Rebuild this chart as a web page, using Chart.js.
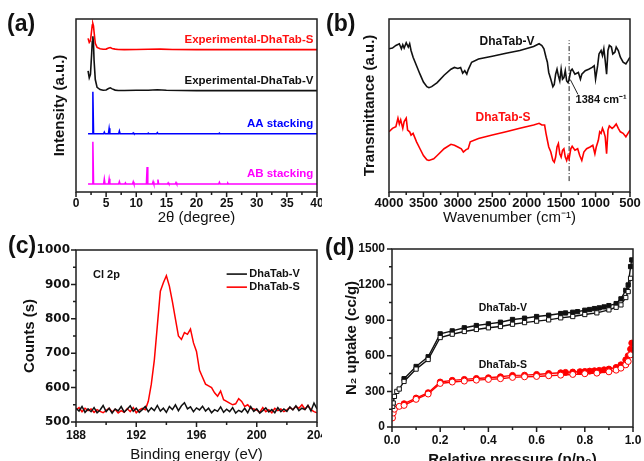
<!DOCTYPE html>
<html>
<head>
<meta charset="utf-8">
<script src="https://cdn.jsdelivr.net/npm/chart.js@4.4.0/dist/chart.umd.min.js"></script>
<style>
  body { margin: 0; width: 644px; height: 461px; overflow: hidden; background: #fff; position: relative; font-family: 'Liberation Sans', Arial, sans-serif; }
  canvas { position: absolute; }
  .tag { position: absolute; font-weight: bold; font-size: 23px; line-height: 23px; color: #111; }
</style>
</head>
<body>
<canvas id="cA" width="322" height="230" style="left:0;top:0"></canvas>
<canvas id="cB" width="322" height="230" style="left:322px;top:0"></canvas>
<canvas id="cC" width="322" height="240" style="left:0;top:230px"></canvas>
<canvas id="cD" width="322" height="240" style="left:322px;top:230px"></canvas>
<div class="tag" style="left:7px;top:12px">(a)</div>
<div class="tag" style="left:326px;top:12px">(b)</div>
<div class="tag" style="left:8px;top:234px">(c)</div>
<div class="tag" style="left:325px;top:236px">(d)</div>
<script>
// ---- (a) XRD ----
const xrdTicks = [0, 5, 10, 15, 20, 25, 30, 35, 40];
const xrdMinor = [2.5, 7.5, 12.5, 17.5, 22.5, 27.5, 32.5, 37.5];
const xrdSx = [2.0, 2.2, 2.4, 2.6, 2.7, 2.8, 2.9, 3.0, 3.2, 3.5, 4.0, 4.5, 5.0, 5.4, 5.7, 6.0, 6.5, 7.0, 8, 10, 12, 14, 16, 20, 25, 30, 35, 40];
const xrdS  = [88.8, 86.5, 87.5, 93.5, 96.5, 97.3, 96.0, 92.5, 86.0, 83.6, 82.8, 82.5, 82.6, 83.2, 83.5, 83.0, 82.6, 82.4, 82.3, 82.4, 82.5, 82.6, 82.4, 82.3, 82.3, 82.3, 82.3, 82.3];
const xrdVx = [2.0, 2.2, 2.4, 2.6, 2.7, 2.8, 2.9, 3.0, 3.2, 3.5, 4.0, 4.5, 5.0, 5.4, 5.7, 6.0, 6.5, 7.0, 8, 10, 12, 13.5, 15, 20, 25, 30, 35, 40];
const xrdV  = [70, 66, 68, 80, 87, 90, 86, 76, 65, 60.5, 59.2, 58.8, 59.0, 59.8, 60.2, 59.6, 58.9, 58.7, 58.7, 58.8, 58.8, 59.1, 58.8, 58.6, 58.6, 58.6, 58.6, 58.6];
const aaX = [2.0, 2.68, 2.8, 2.92, 4.58, 4.7, 4.82, 5.38, 5.5, 5.62, 7.08, 7.2, 7.32, 9.38, 9.5, 9.62, 11.88, 12.0, 12.12, 13.38, 13.5, 13.62, 23.68, 23.8, 23.92, 40];
const aaY = [33.7, 33.7, 58, 33.7, 33.7, 34.6, 33.7, 33.7, 36.8, 33.7, 33.7, 35.3, 33.7, 33.7, 34.2, 33.7, 33.7, 34.1, 33.7, 33.7, 34.3, 33.7, 33.7, 34.1, 33.7, 33.7];
const abX = [2.0, 2.68, 2.8, 2.92, 4.58, 4.7, 4.82, 5.38, 5.5, 5.62, 7.08, 7.2, 7.32, 8.08, 8.2, 8.32, 9.38, 9.5, 9.62, 11.68, 11.8, 11.92, 12.68, 12.8, 12.92, 13.48, 13.6, 13.72, 15.18, 15.3, 15.42, 16.48, 16.6, 16.72, 23.68, 23.8, 23.92, 25.08, 25.2, 25.32, 40];
const abY = [4.6, 4.6, 29, 4.6, 4.6, 7.6, 4.6, 4.6, 7.6, 4.6, 4.6, 6.0, 4.6, 4.6, 5.3, 4.6, 4.6, 5.9, 4.6, 4.6, 14.5, 4.6, 4.6, 6.0, 4.6, 4.6, 7.2, 4.6, 4.6, 5.3, 4.6, 4.6, 5.5, 4.6, 4.6, 5.6, 4.6, 4.6, 5.1, 4.6, 4.6];

// ---- (b) FTIR ----
const irTicks = [4000, 3500, 3000, 2500, 2000, 1500, 1000, 500];
const irMinor = [3750, 3250, 2750, 2250, 1750, 1250, 750];
const irVx = [4000,3950,3900,3850,3820,3800,3780,3750,3720,3700,3680,3650,3600,3550,3500,3450,3420,3380,3300,3200,3100,3050,3000,2960,2930,2900,2870,2850,2800,2700,2500,2300,2100,1900,1820,1780,1750,1720,1700,1680,1650,1620,1600,1580,1560,1540,1520,1500,1480,1460,1440,1420,1400,1384,1360,1340,1300,1250,1220,1200,1150,1100,1050,1020,1000,970,950,920,900,880,860,840,820,800,770,750,720,700,670,640,600,560,530,500];
const irV  = [82.8,83.2,84.7,85.7,82.8,85.1,83.2,86.3,83.8,85.7,81.8,77.9,73.0,68.1,63.6,60.9,60.3,60.9,63.2,67.5,71.0,72.0,71.4,72.0,68.7,70.1,68.1,70.6,75.0,76.9,78.5,80.2,81.8,84.1,85.7,84.7,82.8,77.9,75.0,69.1,65.2,60.9,62.2,68.1,71.0,67.1,64.2,71.0,65.2,66.1,70.1,64.2,63.2,65.2,70.1,71.0,68.1,69.1,65.2,68.1,70.1,71.0,72.0,73.0,65.2,73.0,79.8,81.8,78.9,82.8,75.9,68.1,81.8,84.7,83.8,79.8,80.8,83.8,81.8,77.9,75.0,74.0,75.9,77.9];
const irSx = [4000,3950,3900,3870,3850,3830,3800,3780,3750,3730,3700,3680,3650,3600,3550,3500,3450,3420,3350,3300,3200,3100,3050,3000,2950,2920,2880,2850,2820,2700,2500,2300,2100,1900,1820,1780,1740,1720,1700,1680,1650,1620,1600,1580,1560,1540,1520,1500,1480,1460,1440,1420,1400,1384,1360,1340,1300,1260,1230,1200,1170,1130,1080,1040,1010,990,960,940,920,900,880,860,840,820,800,760,730,700,670,640,600,560,530,500];
const irS  = [34.8,36.8,37.8,42.7,39.3,41.7,36.8,40.7,42.7,35.8,34.8,32.9,33.9,29.0,25.0,21.1,18.6,18.2,19.2,21.1,25.0,27.6,27.0,26.0,25.0,23.1,24.5,25.0,29.0,30.9,32.9,34.8,36.8,38.7,39.7,38.7,38.7,33.9,29.9,26.0,23.1,18.2,17.2,20.2,26.0,28.0,22.1,20.2,24.1,25.0,20.2,18.2,21.1,19.2,25.0,26.4,24.1,25.0,21.1,18.2,23.1,25.0,26.0,27.0,22.1,26.0,29.9,34.8,33.9,36.8,34.8,31.9,22.1,35.8,38.2,36.8,37.8,39.3,36.8,34.8,33.9,31.9,33.9,35.8];
const markX = [1384, 1384];
const markY = [6.3, 87.7];
const leadX = [1367, 1256];
const leadY = [65, 56.4];

// ---- (c) XPS Cl 2p ----
const xpsTicks = [188, 192, 196, 200, 204];
const xpsMinor = [190, 194, 198, 202];
const cntTicks = [500, 600, 700, 800, 900, 1000];
const cntMinor = [550, 650, 750, 850, 950];
const xpsE = [188.0,188.2,188.4,188.6,188.8,189.0,189.2,189.4,189.6,189.8,190.0,190.2,190.4,190.6,190.8,191.0,191.2,191.4,191.6,191.8,192.0,192.2,192.4,192.6,192.8,193.0,193.2,193.4,193.6,193.8,194.0,194.2,194.4,194.6,194.8,195.0,195.2,195.4,195.6,195.8,196.0,196.2,196.4,196.6,196.8,197.0,197.2,197.4,197.6,197.8,198.0,198.2,198.4,198.6,198.8,199.0,199.2,199.4,199.6,199.8,200.0,200.2,200.4,200.6,200.8,201.0,201.2,201.4,201.6,201.8,202.0,202.2,202.4,202.6,202.8,203.0,203.2,203.4,203.6,203.8,204.0];
const xpsV = [540,532,545,528,538,530,542,527,535,548,530,540,526,538,532,545,529,537,547,531,540,528,536,545,530,541,533,548,532,540,528,545,536,550,533,547,556,538,544,530,541,535,546,532,540,527,536,531,544,528,537,530,542,526,534,529,540,527,545,531,538,526,533,541,529,536,527,542,530,538,531,544,535,547,533,540,536,548,532,555,538];
const xpsS = [535,542,530,540,533,538,528,536,531,527,534,540,529,537,526,533,528,539,530,542,527,535,540,536,560,610,680,780,880,905,925,895,850,800,750,740,760,755,770,730,705,650,630,610,605,600,585,575,590,565,560,555,550,553,568,560,545,550,540,538,535,528,542,530,536,527,540,533,538,530,535,542,536,545,540,550,537,548,536,530,527];

// ---- (d) N2 isotherms ----
const pTicks = [0, 0.2, 0.4, 0.6, 0.8, 1.0];
const pMinor = [0.1, 0.3, 0.5, 0.7, 0.9];
const upTicks = [0, 300, 600, 900, 1200, 1500];
const upMinor = [150, 450, 750, 1050, 1350];
const vAdsP = [0.05,0.1,0.15,0.2,0.25,0.3,0.35,0.4,0.45,0.5,0.55,0.6,0.65,0.7,0.72,0.75,0.77,0.8,0.82,0.84,0.86,0.88,0.9,0.93,0.95,0.97,0.98,0.99,0.995];
const vAds  = [407,510,592,785,810,836,855,869,883,906,917,931,942,956,961,967,972,984,990,998,1004,1012,1023,1040,1080,1152,1197,1352,1408];
const vDesP = [0.003,0.005,0.01,0.02,0.03,0.05,0.1,0.15,0.2,0.25,0.3,0.35,0.4,0.45,0.5,0.55,0.6,0.65,0.7,0.75,0.8,0.85,0.9,0.93,0.95,0.97,0.98,0.99];
const vDes  = [174,202,258,300,320,384,488,569,754,782,805,822,836,847,866,880,892,903,920,931,948,962,987,1009,1029,1091,1141,1253];
const sAdsP = [0.05,0.1,0.15,0.2,0.25,0.3,0.35,0.4,0.45,0.5,0.55,0.6,0.65,0.7,0.72,0.75,0.78,0.8,0.82,0.84,0.86,0.88,0.9,0.93,0.95,0.97,0.98,0.99,0.995];
const sAds  = [196,244,289,379,393,401,409,415,423,435,437,443,451,457,460,463,466,468,471,474,477,482,488,502,524,566,600,656,707];
const sDesP = [0.002,0.005,0.01,0.03,0.05,0.1,0.15,0.2,0.25,0.3,0.35,0.4,0.45,0.5,0.55,0.6,0.65,0.7,0.75,0.8,0.85,0.9,0.93,0.95,0.97,0.98,0.99];
const sDes  = [76,118,150,174,182,233,278,367,379,387,395,401,407,418,423,426,432,437,443,449,454,465,479,496,524,552,608];

const pts = (xs, ys) => xs.map((x, i) => ({x: x, y: ys[i]}));
const BOLD = "bold 12px 'Liberation Sans', Arial, sans-serif";

// frame box, tick marks and in-plot text
const framePlugin = {
  id: 'frame',
  afterDatasetsDraw(chart, args, o) {
    const {ctx, chartArea: a, scales} = chart;
    const x = scales.x, y = scales.y;
    ctx.save();
    ctx.strokeStyle = '#1e1e1e';
    ctx.lineWidth = 1.5;
    ctx.strokeRect(a.left, a.top, a.right - a.left, a.bottom - a.top);
    ctx.beginPath();
    (o.xMajor || []).forEach(v => { const p = x.getPixelForValue(v); ctx.moveTo(p, a.bottom); ctx.lineTo(p, a.bottom + 5); });
    (o.xMinor || []).forEach(v => { const p = x.getPixelForValue(v); ctx.moveTo(p, a.bottom); ctx.lineTo(p, a.bottom + 3); });
    (o.yMajor || []).forEach(v => { const p = y.getPixelForValue(v); ctx.moveTo(a.left, p); ctx.lineTo(a.left - 5, p); });
    (o.yMinor || []).forEach(v => { const p = y.getPixelForValue(v); ctx.moveTo(a.left, p); ctx.lineTo(a.left - 3, p); });
    ctx.stroke();
    (o.keys || []).forEach(k => {
      ctx.strokeStyle = k.color; ctx.lineWidth = 1.6;
      ctx.beginPath();
      ctx.moveTo(x.getPixelForValue(k.x0), y.getPixelForValue(k.y));
      ctx.lineTo(x.getPixelForValue(k.x1), y.getPixelForValue(k.y));
      ctx.stroke();
    });
    (o.texts || []).forEach(t => {
      ctx.font = t.font || BOLD;
      ctx.fillStyle = t.color || '#111';
      ctx.textAlign = t.align || 'left';
      ctx.textBaseline = 'middle';
      ctx.fillText(t.text, x.getPixelForValue(t.x), y.getPixelForValue(t.y));
    });
    ctx.restore();
  }
};
Chart.register(framePlugin);

function axis(o) {
  return {
    type: 'linear', min: o.min, max: o.max, reverse: !!o.reverse,
    grid: {display: false, drawTicks: false}, border: {display: false},
    afterBuildTicks: s => { s.ticks = (o.ticks || []).map(v => ({value: v})); },
    afterFit: s => {
      if (o.height != null) s.height = o.height;
      if (o.width != null) s.width = o.width;
      s.paddingLeft = 0; s.paddingRight = 0; s.paddingTop = 0; s.paddingBottom = 0;
    },
    ticks: {display: !!o.ticks, padding: o.pad || 4, autoSkip: false, maxRotation: 0, color: '#111',
            font: o.font || {family: "'Liberation Sans', Arial, sans-serif", size: 12, weight: 'bold'},
            callback: o.fmt || (v => String(v))},
    title: {display: true, text: o.title, color: '#111', padding: o.tpad,
            font: {family: "'Liberation Sans', Arial, sans-serif", size: 15, weight: o.tbold ? 'bold' : 'normal'}}
  };
}

function line(data, color, w) {
  return {data: data, borderColor: color, borderWidth: w || 1.6, pointRadius: 0, tension: 0, fill: false};
}

function opts(pad, frame, xs, ys) {
  return {
    responsive: false, animation: false, events: [],
    layout: {padding: pad},
    plugins: {legend: {display: false}, tooltip: {enabled: false}, frame: frame},
    scales: {x: xs, y: ys}
  };
}

// (a)
new Chart(document.getElementById('cA'), {
  type: 'line',
  data: {datasets: [
    line(pts(abX, abY), '#ff00ff', 1.5),
    line(pts(aaX, aaY), '#0000ff', 1.5),
    line(pts(xrdVx, xrdV), '#111111', 1.6),
    line(pts(xrdSx, xrdS), '#ff0000', 1.6)
  ]},
  options: opts({left: 0, top: 19, right: 5, bottom: 0},
    {xMajor: xrdTicks, xMinor: xrdMinor, texts: [
      {text: 'Experimental-DhaTab-S', x: 39.4, y: 87.8, color: '#ff1010', align: 'right', font: "bold 11.5px 'Liberation Sans', Arial"},
      {text: 'Experimental-DhaTab-V', x: 39.4, y: 64.2, color: '#111', align: 'right', font: "bold 11.5px 'Liberation Sans', Arial"},
      {text: 'AA stacking', x: 39.4, y: 39.3, color: '#0000ff', align: 'right', font: "bold 11.5px 'Liberation Sans', Arial"},
      {text: 'AB stacking', x: 39.4, y: 10.4, color: '#ff00ff', align: 'right', font: "bold 11.5px 'Liberation Sans', Arial"}
    ]},
    axis({min: 0, max: 40, ticks: xrdTicks, height: 38, pad: 4, title: '2θ (degree)', tpad: {bottom: 3}}),
    axis({min: 0, max: 100, width: 76, title: 'Intensity (a.u.)', tbold: true, tpad: {top: 51}}))
});

// (b)
new Chart(document.getElementById('cB'), {
  type: 'line',
  data: {datasets: [
    line(pts(irVx, irV), '#111111', 1.6),
    line(pts(irSx, irS), '#ff0000', 1.6),
    Object.assign(line(pts(markX, markY), '#222', 1), {borderDash: [5, 2, 1, 2]}),
    line(pts(leadX, leadY), '#222', 1)
  ]},
  options: opts({left: 0, top: 19, right: 14, bottom: 0},
    {xMajor: irTicks, xMinor: irMinor, texts: [
      {text: 'DhaTab-V', x: 2286, y: 86.7, color: '#111', align: 'center'},
      {text: 'DhaTab-S', x: 2344, y: 42.8, color: '#ff1010', align: 'center'},
      {text: '1384 cm⁻¹', x: 1290, y: 53.4, color: '#111', font: "bold 11px 'Liberation Sans', Arial"}
    ]},
    axis({min: 500, max: 4000, reverse: true, ticks: irTicks, height: 38, pad: 4, title: 'Wavenumber (cm⁻¹)', tpad: {bottom: 3},
          font: {family: "'Liberation Sans', Arial, sans-serif", size: 13, weight: 'bold'}}),
    axis({min: 0, max: 100, width: 67, title: 'Transmittance (a.u.)', tbold: true, tpad: {top: 39}}))
});

// (c)
new Chart(document.getElementById('cC'), {
  type: 'line',
  data: {datasets: [
    line(pts(xpsE, xpsV), '#111111', 1.5),
    line(pts(xpsE, xpsS), '#ff0000', 1.5)
  ]},
  options: opts({left: 0, top: 20, right: 5, bottom: 0},
    {xMajor: xpsTicks, xMinor: xpsMinor, yMajor: cntTicks, yMinor: cntMinor,
     keys: [{x0: 198.0, x1: 199.35, y: 930, color: '#111'}, {x0: 198.0, x1: 199.35, y: 892, color: '#ff0000'}],
     texts: [
      {text: 'Cl 2p', x: 189.13, y: 927, font: "bold 11px 'Liberation Sans', Arial"},
      {text: 'DhaTab-V', x: 199.5, y: 930, font: "bold 11px 'Liberation Sans', Arial"},
      {text: 'DhaTab-S', x: 199.5, y: 892, font: "bold 11px 'Liberation Sans', Arial"}
    ]},
    axis({min: 188, max: 204, ticks: xpsTicks, height: 48, pad: 6, title: 'Binding energy (eV)', tpad: {bottom: 6}}),
    axis({min: 500, max: 1000, ticks: cntTicks, width: 76, pad: 6, title: 'Counts (s)', tbold: true, tpad: {top: 21},
          font: {family: "'DejaVu Sans', sans-serif", size: 12, weight: 'bold'}}))
});

// (d)
function marks(data, color, style, filled) {
  return {data: data, borderColor: color, borderWidth: 1.4, tension: 0, fill: false,
          pointStyle: style, pointRadius: 3, pointBorderWidth: 1,
          pointBackgroundColor: filled ? color : '#fff', pointBorderColor: color};
}
new Chart(document.getElementById('cD'), {
  type: 'line',
  data: {datasets: [
    marks(pts(vDesP, vDes), '#111111', 'rect', false),
    marks(pts(vAdsP, vAds), '#111111', 'rect', true),
    marks(pts(sDesP, sDes), '#ff0000', 'circle', false),
    marks(pts(sAdsP, sAds), '#ff0000', 'circle', true)
  ]},
  options: opts({left: 0, top: 19, right: 11, bottom: 0},
    {xMajor: pTicks, xMinor: pMinor, yMajor: upTicks, yMinor: upMinor, texts: [
      {text: 'DhaTab-V', x: 0.46, y: 1000, align: 'center', font: "bold 10.5px 'Liberation Sans', Arial"},
      {text: 'DhaTab-S', x: 0.46, y: 520, align: 'center', font: "bold 10.5px 'Liberation Sans', Arial"}
    ]},
    axis({min: 0, max: 1.0, ticks: pTicks, height: 43, pad: 6, fmt: v => v.toFixed(1), title: 'Relative pressure (p/p₀)', tbold: true, tpad: {bottom: 1}}),
    axis({min: 0, max: 1500, ticks: upTicks, width: 70, pad: 7, title: 'N₂ uptake (cc/g)', tbold: true, tpad: {top: 21}}))
});
</script>
</body>
</html>
